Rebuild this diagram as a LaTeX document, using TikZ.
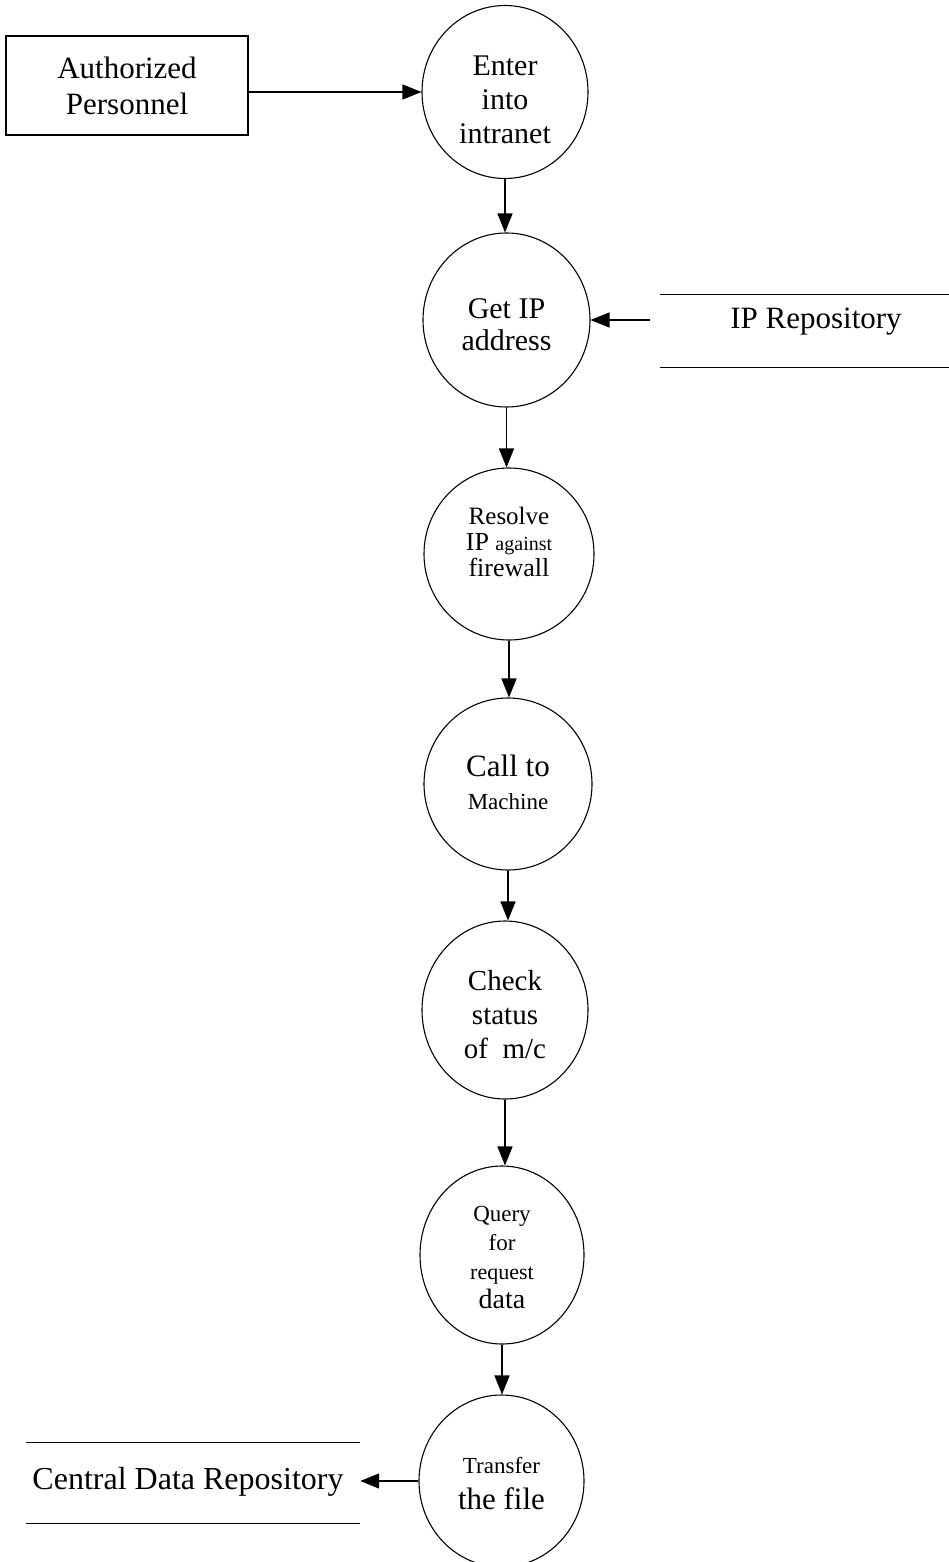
\documentclass[tikz,border=0pt]{standalone}
\usepackage{fontspec}
\setmainfont{Liberation Serif}
\usetikzlibrary{arrows.meta,shapes.geometric}

\newcommand{\fs}[2]{\fontsize{#1}{#2}\selectfont}

\tikzset{
  proc/.style={ellipse, draw, line width=1.1pt, inner sep=0pt},
  label text/.style={inner sep=0pt, align=center},
  entity/.style={rectangle, draw, line width=1.3pt, inner sep=0pt, align=center},
  store/.style={rectangle, inner sep=0pt},
  storeline/.style={line width=1.2pt},
  flow/.style={line width=1.5pt, -{Triangle[length=19pt,width=15pt]}}
}

\begin{document}
\begin{tikzpicture}[x=1pt,y=-1pt]
\useasboundingbox (0,0) rectangle (949,1562);
\clip (0,0) rectangle (949,1562);

% external entity
\node[entity, minimum width=242pt, minimum height=99pt, font=\fs{31}{36}]
  (auth) at (127,85.5) {Authorized\\Personnel};

% process bubbles
\node[proc, minimum width=166pt, minimum height=173pt] (c1) at (505,92) {};
\node[proc, minimum width=167pt, minimum height=174pt] (c2) at (506.5,320) {};
\node[proc, minimum width=170pt, minimum height=172pt] (c3) at (509,554) {};
\node[proc, minimum width=168pt, minimum height=172pt] (c4) at (508,784) {};
\node[proc, minimum width=166pt, minimum height=178pt] (c5) at (505,1010) {};
\node[proc, minimum width=164pt, minimum height=178pt] (c6) at (502,1255) {};
\node[proc, minimum width=165pt, minimum height=172pt] (c7) at (501.5,1481) {};

% bubble captions
\node[label text, font=\fs{30}{34}] (c1t) at (505,100) {Enter\\into\\intranet};
\node[label text, font=\fs{30}{32}] (c2t) at (506.5,325) {Get IP\\address};
\node[label text, font=\fs{26}{26}] (c3t) at (509,542)
  {{\fs{25}{26}Resolve}\\IP {\fs{20}{26}against}\\firewall};
\node[label text, font=\fs{31}{33}] (c4t) at (508,782) {Call to\\{\fs{23}{33}Machine}};
\node[label text, font=\fs{29}{34}] (c5t) at (505,1015) {Check\\status\\of\ \ m/c};
\node[label text, font=\fs{23}{29}] (c6t) at (502,1258)
  {Query\\for\\{\fs{22}{29}request}\\{\fs{28}{29}data}};
\node[label text, font=\fs{31}{36}] (c7t) at (501.5,1484) {{\fs{23}{36}Transfer}\\the file};

% data stores
\node[store, minimum width=289pt, minimum height=72pt] (ip) at (804.5,331) {};
\node[label text, font=\fs{31}{36}] (ipt) at (816,322) {IP Repository};
\node[store, minimum width=334pt, minimum height=80pt] (cdr) at (193,1483) {};
\node[label text, font=\fs{32}{36}] (cdrt) at (188,1482) {Central Data Repository};
\draw[storeline] (ip.north west) -- (ip.north east);
\draw[storeline] (ip.south west) -- (ip.south east);
\draw[storeline] (cdr.north west) -- (cdr.north east);
\draw[storeline] (cdr.south west) -- (cdr.south east);

% data flows
\coordinate (ipout) at ([xshift=-10pt]ip.west);
\draw[flow] (auth.east |- c1.west) -- (c1.west);
\draw[flow] (c1.south) -- (c1.south |- c2.north);
\draw[flow] (ipout |- c2.east) -- (c2.east);
\draw[flow] (c2.south) -- (c2.south |- c3.north);
\draw[flow] (c3.south) -- (c3.south |- c4.north);
\draw[flow] (c4.south) -- (c4.south |- c5.north);
\draw[flow] (c5.south) -- (c5.south |- c6.north);
\draw[flow] (c6.south) -- (c6.south |- c7.north);
\draw[flow] (c7.west) -- (c7.west -| cdr.east);
\end{tikzpicture}
\end{document}
